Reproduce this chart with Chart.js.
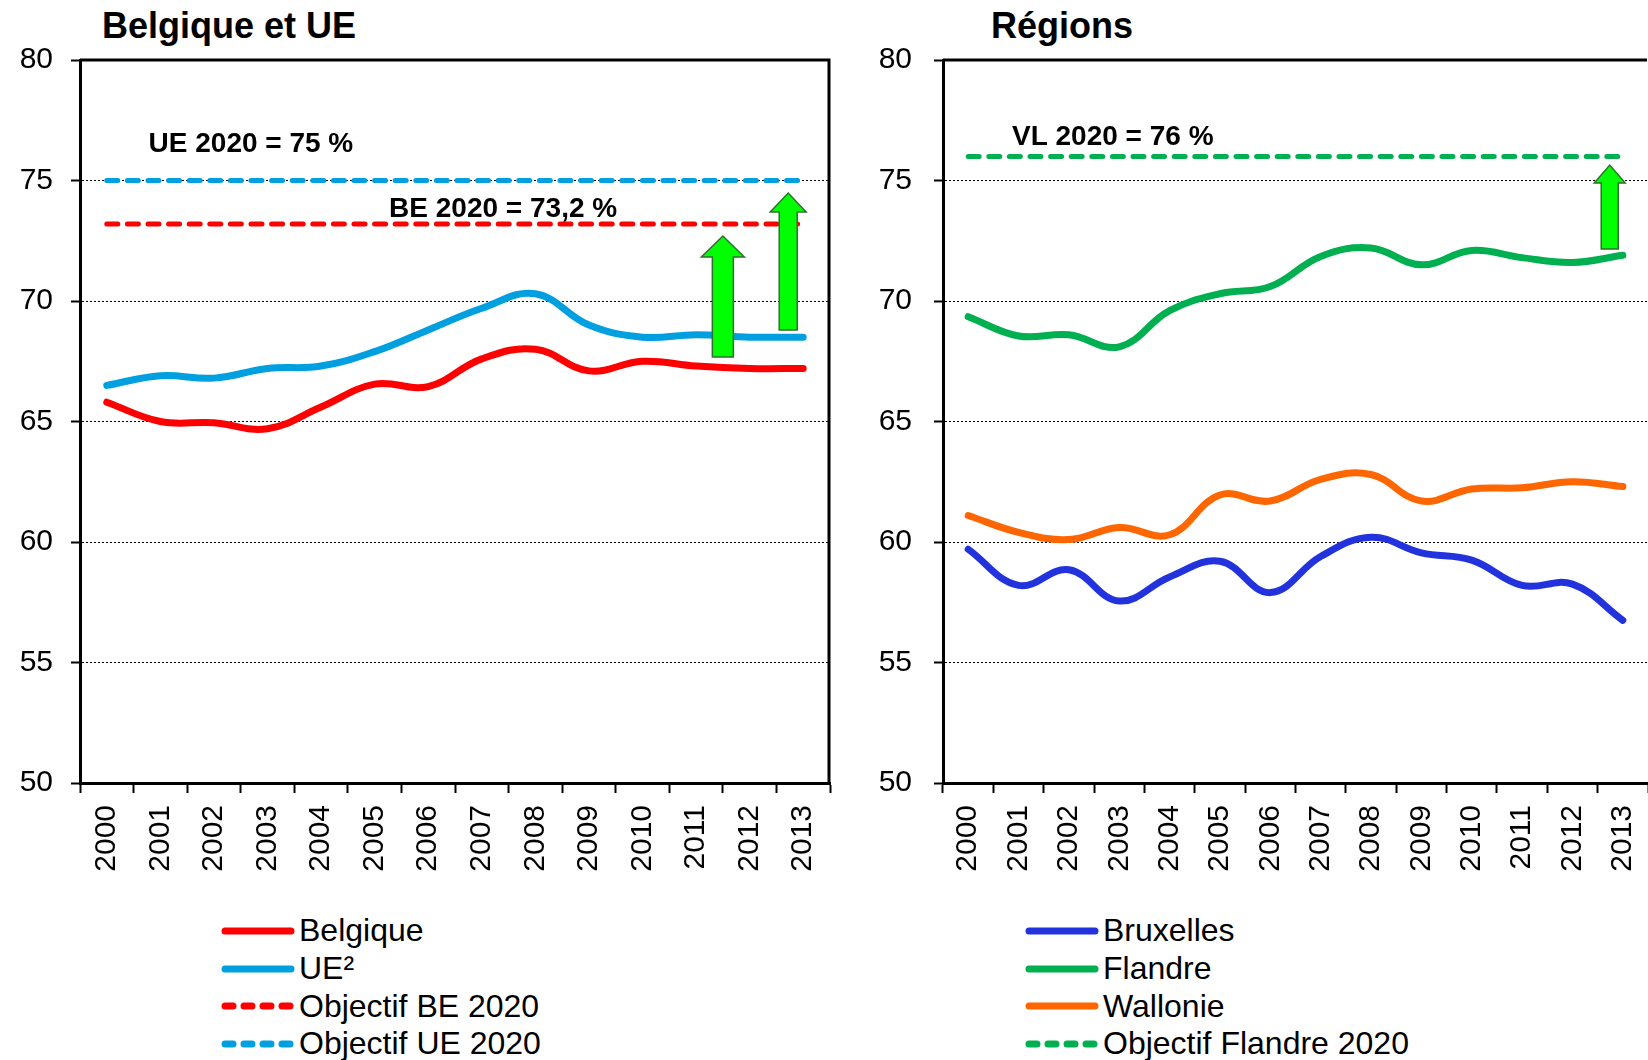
<!DOCTYPE html>
<html>
<head>
<meta charset="utf-8">
<script src="https://cdn.jsdelivr.net/npm/chart.js@4.4.1/dist/chart.umd.min.js"></script>
<style>
    body { margin: 0; background: #fff; width: 1648px; height: 1060px; overflow: hidden; position: relative;
           font-family: "Liberation Sans", Arial, sans-serif; color: #000; }
    .box { position: absolute; }
    .title { position: absolute; top: 6px; font-size: 36px; font-weight: bold; line-height: 40px; }
    .legend { position: absolute; font-size: 32px; }
    .legend .item { display: flex; align-items: center; height: 37.7px; }
    .legend svg { margin-right: 4px; }
</style>
</head>
<body>
<div class="title" style="left:102px">Belgique et UE</div>
<div class="title" style="left:991px">Régions</div>
<div class="box" style="left:0;top:0;width:840px;height:880px"><canvas id="leftChart"></canvas></div>
<div class="box" style="left:840px;top:0;width:808px;height:880px"><canvas id="rightChart"></canvas></div>
<div class="legend" id="leftLegend" style="left:221px;top:912px"></div>
<div class="legend" id="rightLegend" style="left:1025px;top:912px"></div>

<script>
// data
const years = ['2000', '2001', '2002', '2003', '2004', '2005', '2006', '2007', '2008', '2009', '2010', '2011', '2012', '2013'];
const belgique = [65.8, 65.0, 64.95, 64.7, 65.6, 66.55, 66.45, 67.6, 68.0, 67.1, 67.5, 67.3, 67.2, 67.2];
const ue = [66.5, 66.9, 66.8, 67.2, 67.3, 67.9, 68.8, 69.7, 70.3, 69.0, 68.5, 68.6, 68.5, 68.5];
const bruxelles = [59.7, 58.2, 58.85, 57.55, 58.55, 59.2, 57.9, 59.4, 60.2, 59.55, 59.25, 58.2, 58.25, 56.75];
const flandre = [69.35, 68.55, 68.6, 68.1, 69.6, 70.3, 70.6, 71.85, 72.2, 71.5, 72.1, 71.8, 71.6, 71.9];
const wallonie = [61.1, 60.4, 60.1, 60.6, 60.3, 61.95, 61.7, 62.6, 62.8, 61.7, 62.2, 62.25, 62.5, 62.3];
const yTicks = [50, 55, 60, 65, 70, 75, 80];

const objectifBE = 73.2;
const objectifUE = 75;
const objectifFlandre = 76;

// arrows (x in category index, from/to in %) and target notes
const leftArrows = [
    { x: 11.5, from: 67.68, to: 72.7, shaft: 21, head: 43, headLen: 21 },
    { x: 12.72, from: 68.8, to: 74.48, shaft: 18, head: 36, headLen: 19 }
];
const rightArrows = [
    { x: 12.74, from: 72.16, to: 75.64, shaft: 17, head: 31, headLen: 18 }
];
const leftNotes = [
    { text: 'UE 2020 = 75 %', x: 0.78, y: 76.5 },
    { text: 'BE 2020 = 73,2 %', x: 5.27, y: 73.8 }
];
const rightNotes = [
    { text: 'VL 2020 = 76 %', x: 0.87, y: 76.8 }
];

const RED = '#FF0000';
const SKY = '#00A0E0';
const BLUE = '#2233DD';
const GREEN = '#00B050';
const ORANGE = '#FF6600';

Chart.defaults.font.family = '"Liberation Sans", Arial, sans-serif';
Chart.defaults.color = '#000';

function series(label, data, color) {
    return { label: label, data: data, borderColor: color, backgroundColor: color,
             borderWidth: 7, tension: 0.4, pointRadius: 0, borderCapStyle: 'round', fill: false };
}

function target(label, value, color) {
    return { label: label, data: [{ x: years[0], y: value }, { x: years[years.length - 1], y: value }],
             borderColor: color, backgroundColor: color, borderWidth: 5, borderDash: [11, 9.6],
             borderCapStyle: 'round', pointRadius: 0, fill: false };
}

const framePlugin = {
    id: 'frame',
    afterDraw(chart, args, opts) {
        const { ctx, chartArea: a, scales: { x, y } } = chart;
        ctx.save();
        ctx.strokeStyle = '#000';
        ctx.lineWidth = 3;
        ctx.beginPath();
        ctx.moveTo(a.left, a.top);
        ctx.lineTo(a.right - 1, a.top);
        if (opts.rightBorder) ctx.lineTo(a.right - 1, a.bottom);
        ctx.stroke();

        (opts.arrows || []).forEach(ar => {
            const cx = x.getPixelForValue(ar.x);
            const yb = y.getPixelForValue(ar.from);
            const yt = y.getPixelForValue(ar.to);
            const s = ar.shaft / 2, h = ar.head / 2;
            ctx.beginPath();
            ctx.moveTo(cx - s, yb);
            ctx.lineTo(cx - s, yt + ar.headLen);
            ctx.lineTo(cx - h, yt + ar.headLen);
            ctx.lineTo(cx, yt);
            ctx.lineTo(cx + h, yt + ar.headLen);
            ctx.lineTo(cx + s, yt + ar.headLen);
            ctx.lineTo(cx + s, yb);
            ctx.closePath();
            ctx.fillStyle = '#00FF00';
            ctx.fill();
            ctx.lineWidth = 1.5;
            ctx.strokeStyle = '#2F6F2F';
            ctx.stroke();
        });

        ctx.fillStyle = '#000';
        ctx.font = 'bold 28px "Liberation Sans", Arial, sans-serif';
        ctx.textBaseline = 'middle';
        ctx.textAlign = 'left';
        (opts.notes || []).forEach(n => {
            ctx.fillText(n.text, x.getPixelForValue(n.x), y.getPixelForValue(n.y));
        });
        ctx.restore();
    }
};

function makeOptions(yWidth, yPad, rightPad, rightBorder, arrows, notes) {
    return {
        responsive: true,
        maintainAspectRatio: false,
        animation: false,
        layout: { padding: { top: 60, right: rightPad, left: 0, bottom: 0 } },
        plugins: {
            legend: { display: false },
            tooltip: { enabled: false },
            frame: { arrows: arrows, notes: notes, rightBorder: rightBorder }
        },
        scales: {
            x: {
                offset: true,
                grid: { offset: true, drawOnChartArea: false, drawTicks: true, tickLength: 10,
                        tickColor: '#000', tickWidth: 2 },
                border: { color: '#000', width: 3 },
                ticks: { minRotation: 90, maxRotation: 90, autoSkip: false, padding: 12,
                         font: { size: 30 } },
                afterFit: s => { s.height = 97; s.paddingLeft = 0; s.paddingRight = 0; }
            },
            y: {
                min: 50,
                max: 80,
                afterBuildTicks: s => { s.ticks = yTicks.map(v => ({ value: v })); },
                grid: { color: '#000', lineWidth: 1, tickLength: 9, tickColor: '#000',
                        tickWidth: 2, tickBorderDash: [] },
                border: { color: '#000', width: 3, dash: [2, 2] },
                ticks: { padding: yPad, font: { size: 30 } },
                afterFit: s => { s.width = yWidth; s.paddingTop = 0; s.paddingBottom = 0; }
            }
        }
    };
}

const leftChart = new Chart(document.getElementById('leftChart'), {
    type: 'line',
    data: {
        labels: years,
        datasets: [
            series('Belgique', belgique, RED),
            series('UE²', ue, SKY),
            target('Objectif BE 2020', objectifBE, RED),
            target('Objectif UE 2020', objectifUE, SKY)
        ]
    },
    options: makeOptions(80, 18, 10, true, leftArrows, leftNotes),
    plugins: [framePlugin]
});

const rightChart = new Chart(document.getElementById('rightChart'), {
    type: 'line',
    data: {
        labels: years,
        datasets: [
            series('Bruxelles', bruxelles, BLUE),
            series('Flandre', flandre, GREEN),
            series('Wallonie', wallonie, ORANGE),
            target('Objectif Flandre 2020', objectifFlandre, GREEN)
        ]
    },
    options: makeOptions(103, 22, 0, false, rightArrows, rightNotes),
    plugins: [framePlugin]
});

// legends built from the datasets
function buildLegend(chart, id) {
    const box = document.getElementById(id);
    chart.data.datasets.forEach(ds => {
        const row = document.createElement('div');
        row.className = 'item';
        const dash = ds.borderDash ? 'stroke-dasharray="8 11"' : '';
        row.innerHTML = '<svg width="74" height="14"><line x1="4" y1="7" x2="70" y2="7" stroke="' +
            ds.borderColor + '" stroke-width="7" stroke-linecap="round" ' + dash + '/></svg>';
        const span = document.createElement('span');
        span.textContent = ds.label;
        row.appendChild(span);
        box.appendChild(row);
    });
}

buildLegend(leftChart, 'leftLegend');
buildLegend(rightChart, 'rightLegend');
</script>
</body>
</html>
